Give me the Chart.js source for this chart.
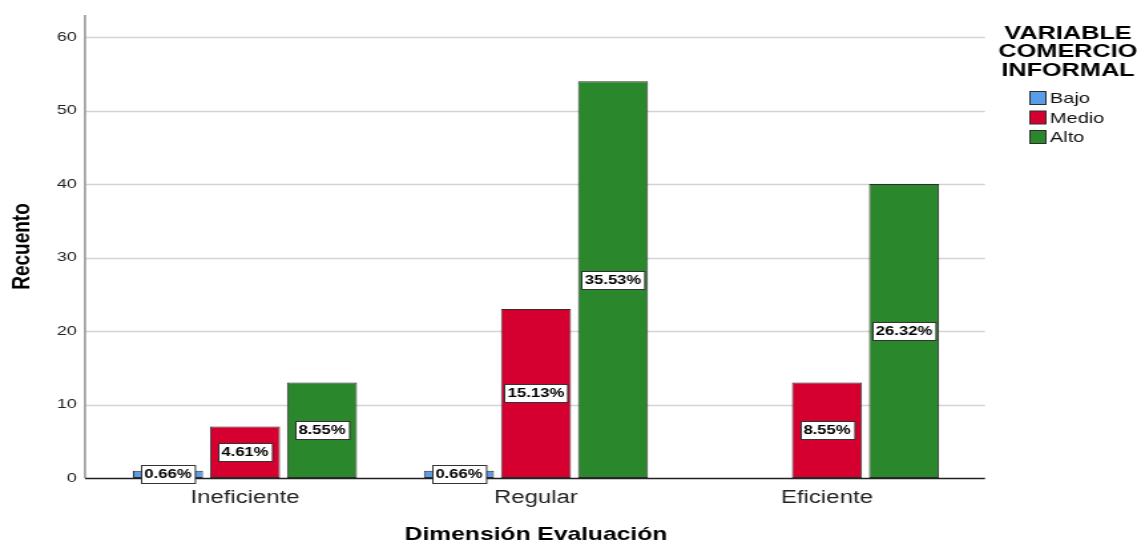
<!DOCTYPE html>
<html lang="es">
<head>
<meta charset="utf-8">
<title>Recuento por Dimensión Evaluación</title>
<script src="https://cdn.jsdelivr.net/npm/chart.js@4.4.1/dist/chart.umd.min.js"></script>
<style>
  html, body { margin: 0; padding: 0; background: #fff; overflow: hidden; }
  /* the SPSS export is stretched sideways, so draw narrow and widen */
  #wrap { width: 855px; height: 542px; transform: scaleX(1.32982); transform-origin: 0 0; }
  #c { display: block; }
</style>
</head>
<body>
<div id="wrap"><canvas id="c" width="855" height="542"></canvas></div>
<script>
  // ---- data ---------------------------------------------------------------
  var categories = ["Ineficiente", "Regular", "Eficiente"];
  var seriesNames = ["Bajo", "Medio", "Alto"];
  var bajo = [1, 1, 0];
  var medio = [7, 23, 13];
  var alto = [13, 54, 40];
  var yTicks = [0, 10, 20, 30, 40, 50, 60];
  var legendTitle = ["VARIABLE", "COMERCIO", "INFORMAL"];

  var COLORS = ["#5a9de6", "#d5002f", "#2b872b"];
  var EDGE = "#2e2e2e";
  var FONT = "'Liberation Sans', Arial, sans-serif";

  var total = 0;
  [bajo, medio, alto].forEach(function (arr) {
    arr.forEach(function (v) { total += v; });
  });

  function pct(v) {
    return (v / total * 100).toFixed(2) + "%";
  }

  // ---- gridlines + axis lines (drawn from the y scale) --------------------
  var frame = {
    id: "frame",
    beforeDatasetsDraw: function (chart) {
      var ctx = chart.ctx, y = chart.scales.y, area = chart.chartArea;
      var x0 = 63.9, x1 = 740.7;
      ctx.save();
      ctx.strokeStyle = "#d4d4d4";
      ctx.lineWidth = 1.5;
      yTicks.forEach(function (t) {
        if (t === 0) return;
        var py = Math.round(y.getPixelForValue(t)) + 0.5;
        ctx.beginPath();
        ctx.moveTo(x0, py);
        ctx.lineTo(x1, py);
        ctx.stroke();
      });
      ctx.strokeStyle = "#9a9a9a";
      ctx.lineWidth = 1.6;
      ctx.beginPath();
      ctx.moveTo(x0, area.top);
      ctx.lineTo(x0, y.getPixelForValue(0));
      ctx.stroke();
      ctx.restore();
    },
    afterDatasetsDraw: function (chart) {
      var ctx = chart.ctx, y = chart.scales.y;
      var py = Math.round(y.getPixelForValue(0)) + 0.5;
      ctx.save();
      ctx.strokeStyle = "#222";
      ctx.lineWidth = 1.3;
      ctx.beginPath();
      ctx.moveTo(63.9, py);
      ctx.lineTo(740.7, py);
      ctx.stroke();
      ctx.restore();
    }
  };

  // ---- percentage boxes in the middle of each bar -------------------------
  var pctLabels = {
    id: "pctLabels",
    afterDatasetsDraw: function (chart) {
      var ctx = chart.ctx, y = chart.scales.y;
      ctx.save();
      ctx.font = "bold 12.5px " + FONT;
      ctx.textAlign = "center";
      ctx.textBaseline = "middle";
      chart.data.datasets.forEach(function (ds, di) {
        var meta = chart.getDatasetMeta(di);
        meta.data.forEach(function (bar, i) {
          var v = ds.data[i];
          if (!v) return;
          var txt = pct(v);
          var w = ctx.measureText(txt).width + 5;
          var h = 18;
          var cx = bar.x;
          var cy = y.getPixelForValue(v / 2);
          var bx = Math.round(cx - w / 2) + 0.5, by = Math.round(cy - h / 2) + 0.5;
          ctx.fillStyle = "#fff";
          ctx.fillRect(bx, by, w, h);
          ctx.strokeStyle = "#333";
          ctx.lineWidth = 1;
          ctx.strokeRect(bx, by, w, h);
          ctx.fillStyle = "#000";
          ctx.fillText(txt, cx, by + h / 2 + 0.5);
        });
      });
      ctx.restore();
    }
  };

  // ---- legend with three-line title ---------------------------------------
  var sideLegend = {
    id: "sideLegend",
    afterDraw: function (chart) {
      var ctx = chart.ctx;
      ctx.save();
      ctx.fillStyle = "#000";
      ctx.font = "bold 19px " + FONT;
      ctx.textAlign = "center";
      ctx.textBaseline = "middle";
      legendTitle.forEach(function (line, i) {
        ctx.fillText(line, 803.1, 33.5 + i * 18.5);
      });
      ctx.font = "15px " + FONT;
      ctx.textAlign = "left";
      chart.data.datasets.forEach(function (ds, i) {
        var cy = 98 + i * 19.5;
        ctx.fillStyle = ds.backgroundColor;
        ctx.fillRect(774.5, cy - 6.5, 12, 13);
        ctx.strokeStyle = EDGE;
        ctx.lineWidth = 1;
        ctx.strokeRect(774.5, cy - 6.5, 12, 13);
        ctx.fillStyle = "#111";
        ctx.fillText(ds.label, 789.6, cy + 1);
      });
      ctx.restore();
    }
  };

  // ---- chart --------------------------------------------------------------
  function dataset(i, values) {
    return {
      label: seriesNames[i],
      data: values,
      backgroundColor: COLORS[i],
      borderColor: EDGE,
      borderWidth: function (c) { return c.raw ? 1 : 0; },
      borderSkipped: false,
      categoryPercentage: 0.794,
      barPercentage: 0.909
    };
  }

  new Chart(document.getElementById("c"), {
    type: "bar",
    data: {
      labels: categories,
      datasets: [dataset(0, bajo), dataset(1, medio), dataset(2, alto)]
    },
    options: {
      responsive: false,
      animation: false,
      devicePixelRatio: 1,
      layout: { padding: { top: 15, right: 123.7, left: 0, bottom: 0 } },
      plugins: { legend: { display: false }, tooltip: { enabled: false } },
      scales: {
        x: {
          offset: true,
          grid: { display: false, drawTicks: false },
          border: { display: false },
          ticks: { padding: 9, color: "#222", font: { family: FONT, size: 18 } },
          afterFit: function (s) { s.height = 64; },
          title: {
            display: true,
            text: "Dimensión Evaluación",
            color: "#000",
            font: { family: FONT, size: 18.5, weight: "bold", lineHeight: 0.8 },
            padding: 0
          }
        },
        y: {
          min: 0,
          max: 63,
          grid: { display: false, drawTicks: false },
          border: { display: false },
          ticks: { stepSize: 10, padding: 17, color: "#222", font: { family: FONT, size: 13.5 } },
          afterBuildTicks: function (s) {
            s.ticks = yTicks.map(function (v) { return { value: v }; });
          },
          afterFit: function (s) {
            s.width = 74.8;
            s.paddingTop = 0;
            s.paddingBottom = 0;
          },
          title: {
            display: true,
            text: "Recuento",
            color: "#000",
            font: { family: FONT, size: 19, weight: "bold", lineHeight: 1.2 },
            padding: { top: 5, bottom: 0 }
          }
        }
      }
    },
    plugins: [frame, pctLabels, sideLegend]
  });
</script>
</body>
</html>
